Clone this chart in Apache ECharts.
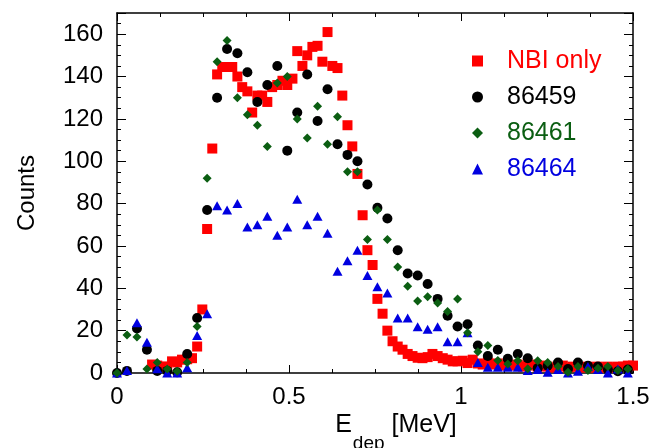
<!DOCTYPE html>
<html><head><meta charset="utf-8">
<script src="https://cdn.jsdelivr.net/npm/echarts@6/dist/echarts.min.js"></script>
<style>html,body{margin:0;padding:0;background:#fff}#c{width:652px;height:448px}</style>
</head><body><div id="c"></div>
<script>
// Energy bins (MeV) for the fine-binned "NBI only" spectrum
const redEnergy = [0.102,0.117,0.131,0.146,0.160,0.175,0.189,0.204,0.218,0.233,0.248,0.262,0.277,0.291,0.306,0.320,0.335,0.350,0.364,0.379,0.393,0.408,0.422,0.437,0.451,0.466,0.481,0.495,0.510,0.524,0.539,0.553,0.568,0.583,0.597,0.612,0.626,0.641,0.655,0.670,0.684,0.699,0.714,0.728,0.743,0.757,0.772,0.786,0.801,0.816,0.830,0.845,0.859,0.874,0.888,0.903,0.917,0.932,0.947,0.961,0.976,0.990,1.005,1.019,1.034,1.049,1.063,1.078,1.092,1.107,1.121,1.136,1.150,1.165,1.180,1.194,1.209,1.223,1.238,1.252,1.267,1.282,1.296,1.311,1.325,1.340,1.354,1.369,1.383,1.398,1.413,1.427,1.442,1.456,1.471,1.485,1.500];
const nbiOnly = [4,3.5,3,3,5.5,5,6.3,6.5,7,12.5,30,68,106,141,144.5,144.5,144.5,140,135,133,123,131,131,128,135,136,138,136,139,152,145,150,154,154.5,147,161,145,144,131,117,107,94,74.5,58,51,35,28,20,15,12.5,11,9,8,7.2,7,7.5,9,8,7,6.3,5.5,5.5,5.8,4.7,6.3,4.5,4,5,4,4.5,3.5,4,3.5,4,3,3.5,4,3,3.5,3,2.5,3,3.5,2.5,3,3,2.5,3,2.5,3,2.5,3,2.5,3,3,3.5,3.5];
// Energy bins (MeV) for the shot spectra
const shotEnergy = [0,0.029,0.058,0.087,0.117,0.146,0.175,0.204,0.233,0.262,0.291,0.320,0.350,0.379,0.408,0.437,0.466,0.495,0.524,0.553,0.583,0.612,0.641,0.670,0.699,0.728,0.757,0.786,0.816,0.845,0.874,0.903,0.932,0.961,0.990,1.019,1.049,1.078,1.107,1.136,1.165,1.194,1.223,1.252,1.282,1.311,1.340,1.369,1.398,1.427,1.456,1.485];
const shot86459 = [0,1,21,11,1,1,0.3,9,26,77,130,153,151,142,128,136,145,105,123,141,119,134,108,103,100,89,78,73,58,47,46,42,35,27,22,23,13,8,11,6.7,9,7,2.3,3.4,5,1.9,5,3.4,3.1,1.6,0.8,1.6];
const shot86461 = [0,18,17,1.9,5,1.9,0.8,5,22,92,147,157,130,122,117,107,137,140,120,111,126,108,121,95,95,63,77,63,50,41,34,36,33,29,35,19,10,13,5.9,4.2,5.8,2,5.8,5,3.1,0.3,3.1,1.2,2.3,3.1,1.2,1.9];
const shot86464 = [0,1.2,23.7,14.5,2,0,0,2.5,17.7,28,79,77,80,69,70,74,65,69,82,70,74,66,48,53,58,46,40.7,37.8,26,26,21.8,20.7,21.8,14.7,14.7,19,5,2.7,2.7,2.7,2.7,1.2,1.6,0.3,1.6,0,0.8,3.1,1.6,0,1.9,0];
const seriesNames = ['NBI only','86459','86461','86464'];
const yTicks = [0,20,40,60,80,100,120,140,160];
const xTicks = [0,0.5,1,1.5];

const pair = (xs, ys) => ys.map((v, i) => [xs[i], v]);
const FONT = 'Liberation Sans';
const colRed = '#ff0000', colBlack = '#000000', colGreen = '#0b5e12', colBlue = '#0000e0';

const chart = echarts.init(document.getElementById('c'));
const axisLine = {show: true, onZero: false, lineStyle: {color: '#000', width: 1.5}};
const tick = len => ({inside: true, length: len, lineStyle: {color: '#000', width: 1}});
const minor = {show: true, splitNumber: 4, length: 4, lineStyle: {color: '#000', width: 1}};
chart.setOption({
  animation: false,
  textStyle: {fontFamily: FONT},
  grid: {left: 117, right: 19, top: 13, bottom: 75, containLabel: false, outerBoundsMode: 'none'},
  legend: {
    orient: 'vertical', left: 467, top: 43, itemWidth: 11, itemHeight: 11, itemGap: 10,
    textStyle: {fontSize: 25, fontFamily: FONT, padding: [0, 0, 0, 19], lineHeight: 26},
    data: [
      {name: seriesNames[0], textStyle: {color: colRed}},
      {name: seriesNames[1], textStyle: {color: colBlack}},
      {name: seriesNames[2], textStyle: {color: colGreen}},
      {name: seriesNames[3], textStyle: {color: colBlue}}
    ]
  },
  xAxis: [{
    type: 'value', min: 0, max: 1.5, interval: 0.5, position: 'bottom',
    axisLine: axisLine, axisTick: tick(8), minorTick: minor,
    splitLine: {show: false},
    axisLabel: {fontSize: 24, color: '#000', margin: 12, fontFamily: FONT,
      formatter: v => xTicks.some(t => Math.abs(t - v) < 1e-6) ? String(v) : ''},
    name: '{a|E}{b|dep}{a| [MeV]}', nameLocation: 'middle', nameGap: 40, nameMoveOverlap: false,
    nameTextStyle: {verticalAlign: 'top', padding: [0, 0, 0, 42], rich: {
      a: {fontSize: 25, fontFamily: FONT, color: '#000', verticalAlign: 'top', lineHeight: 26},
      b: {fontSize: 19, fontFamily: FONT, color: '#000', verticalAlign: 'bottom', lineHeight: 40, padding: [0, 0, 0, 1]}
    }}
  }, {
    type: 'value', min: 0, max: 1.5, interval: 0.5, position: 'top',
    axisLine: axisLine, axisTick: tick(8), minorTick: minor,
    splitLine: {show: false}, axisLabel: {show: false}
  }],
  yAxis: [{
    type: 'value', min: 0, max: 170, interval: 20, position: 'left',
    axisLine: axisLine, axisTick: tick(9), minorTick: minor,
    splitLine: {show: false},
    axisLabel: {fontSize: 24, color: '#000', margin: 14, fontFamily: FONT,
      formatter: v => yTicks.indexOf(v) >= 0 ? String(v) : ''},
    name: 'Counts', nameLocation: 'middle', nameGap: 78, nameRotate: 90, nameMoveOverlap: false,
    nameTextStyle: {fontSize: 24, color: '#000', fontFamily: FONT}
  }, {
    type: 'value', min: 0, max: 170, interval: 20, position: 'right',
    axisLine: axisLine, axisTick: tick(9), minorTick: minor,
    splitLine: {show: false}, axisLabel: {show: false}
  }],
  series: [
    {name: seriesNames[0], type: 'scatter', symbol: 'rect', symbolSize: 10, clip: false,
     itemStyle: {color: colRed, opacity: 1}, data: pair(redEnergy, nbiOnly)},
    {name: seriesNames[1], type: 'scatter', symbol: 'circle', symbolSize: 10, clip: false,
     itemStyle: {color: colBlack, opacity: 1}, data: pair(shotEnergy, shot86459)},
    {name: seriesNames[3], type: 'scatter', symbol: 'triangle', symbolSize: [10, 9], clip: false,
     itemStyle: {color: colBlue, opacity: 1}, data: pair(shotEnergy, shot86464)},
    {name: seriesNames[2], type: 'scatter', symbol: 'diamond', symbolSize: 9, clip: false,
     itemStyle: {color: colGreen, opacity: 1}, data: pair(shotEnergy, shot86461)}
  ]
});
</script></body></html>
